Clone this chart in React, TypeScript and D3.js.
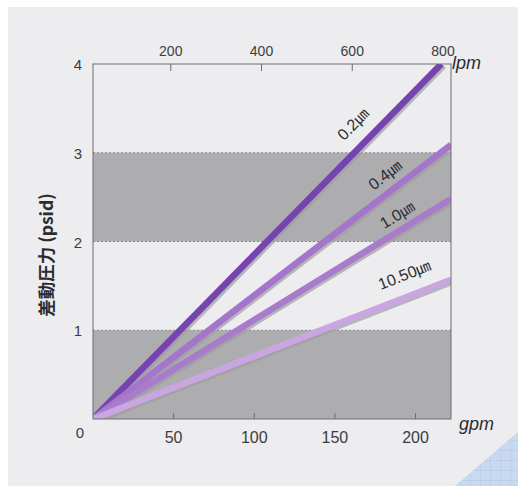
import React from "react";
import * as d3 from "d3";

const W = 518;
const H = 486;

const gpmTicks = [50, 100, 150, 200];
const lpmTicks = [200, 400, 600, 800];
const psidTicks = [0, 1, 2, 3, 4];
const bands = [[0, 1], [2, 3]];

const seriesNames = ["0.2", "0.4", "1.0", "10.50"];
const unit = "㎛";
const seriesEndGpm = [216, 222, 222, 222];
const seriesEndPsid = [4.0, 3.09, 2.48, 1.57];
const seriesColors = ["#7743b0", "#a575cc", "#a97ccb", "#c9a6df"];
const labelAt = [[354, 125], [386, 176], [398, 216], [405, 276]];

export default function App() {
  const x = d3.scaleLinear().domain([0, 222]).range([93, 451]);
  const xTop = d3.scaleLinear().domain([0, 800]).range([80, 443]);
  const y = d3.scaleLinear().domain([0, 4]).range([419, 64]);
  const line = d3.line<[number, number]>().x((d) => x(d[0])).y((d) => y(d[1]));
  const font = "'Liberation Sans', Arial, sans-serif";
  const x0 = x(0), x1 = x(222), yTop = y(4), yBot = y(0);

  return (
    <svg width={W} height={H} style={{ position: "absolute", left: 0, top: 0 }}>
      <defs>
        <pattern id="grid" width="10" height="10" patternUnits="userSpaceOnUse">
          <rect width="10" height="10" fill="#c9d9ef" />
          <path d="M10 0 L0 0 0 10" fill="none" stroke="#b3c6e4" strokeWidth="1" />
        </pattern>
        <clipPath id="plot">
          <rect x={x0} y={yTop} width={x1 - x0} height={yBot - yTop} />
        </clipPath>
      </defs>
      <rect width={W} height={H} fill="#ffffff" />
      <rect x={8} y={7} width={W - 8} height={H - 7} fill="#ededf0" />
      <polygon points={`455,486 518,432 518,486`} fill="url(#grid)" />
      {bands.map((b, i) => (
        <g key={i}>
          <rect x={x0} y={y(b[1])} width={x1 - x0} height={y(b[0]) - y(b[1])} fill="#adadb0" />
          <line x1={x0} x2={x1} y1={y(b[1])} y2={y(b[1])} stroke="#8a8a8e" strokeDasharray="2,2" strokeWidth={1} />
          {b[0] > 0 && (
            <line x1={x0} x2={x1} y1={y(b[0])} y2={y(b[0])} stroke="#8a8a8e" strokeDasharray="2,2" strokeWidth={1} />
          )}
        </g>
      ))}
      <g clipPath="url(#plot)">
        {seriesNames.map((n, i) => {
          const pts: [number, number][] = [[0, 0], [seriesEndGpm[i], seriesEndPsid[i]]];
          return (
            <g key={n}>
              <path d={line(pts) || ""} transform="translate(2,1.5)" stroke="#9c9ca2" strokeOpacity={0.7} strokeWidth={7} fill="none" />
              <path d={line(pts) || ""} stroke={seriesColors[i]} strokeWidth={6.5} fill="none" />
            </g>
          );
        })}
      </g>
      <rect x={x0} y={yTop} width={x1 - x0} height={yBot - yTop} fill="none" stroke="#6e6e72" strokeWidth={1} />
      {gpmTicks.map((t) => (
        <g key={t}>
          <line x1={x(t)} x2={x(t)} y1={yBot} y2={yBot - 6} stroke="#6e6e72" />
          <text x={x(t)} y={yBot + 24} textAnchor="middle" fontFamily={font} fontSize={16} fill="#3c3c40">{t}</text>
        </g>
      ))}
      {lpmTicks.map((t) => (
        <g key={t}>
          {t < 800 && <line x1={xTop(t)} x2={xTop(t)} y1={yTop} y2={yTop + 7} stroke="#6e6e72" />}
          <text x={xTop(t)} y={yTop - 8} textAnchor="middle" fontFamily={font} fontSize={14} fill="#3c3c40">{t}</text>
        </g>
      ))}
      {psidTicks.map((t) => (
        <text key={t} x={t === 0 ? 80 : 78} y={t === 0 ? yBot + 19 : y(t) + 6} textAnchor="middle" fontFamily={font} fontSize={15} fill="#3c3c40">{t}</text>
      ))}
      <text x={459} y={430} fontFamily={font} fontStyle="italic" fontSize={18} fill="#2c2c30">gpm</text>
      <text x={452} y={69} fontFamily={font} fontStyle="italic" fontSize={18} fill="#2c2c30">lpm</text>
      <text transform="translate(53,255) rotate(-90)" textAnchor="middle" fontFamily="'Noto Sans CJK JP', sans-serif" fontWeight="bold" fontSize={17.5} fill="#2c2c30">差動圧力 (psid)</text>
      {seriesNames.map((n, i) => {
        const ang = (Math.atan2(y(seriesEndPsid[i]) - y(0), x(seriesEndGpm[i]) - x(0)) * 180) / Math.PI;
        return (
          <text key={n} transform={`translate(${labelAt[i][0]},${labelAt[i][1]}) rotate(${ang})`} textAnchor="middle" dominantBaseline="middle" fontFamily={font} fontSize={16} fill="#2c2c30">
            {n}
            <tspan fontFamily="'Noto Sans CJK JP', sans-serif" fontSize={15}>{unit}</tspan>
          </text>
        );
      })}
    </svg>
  );
}
